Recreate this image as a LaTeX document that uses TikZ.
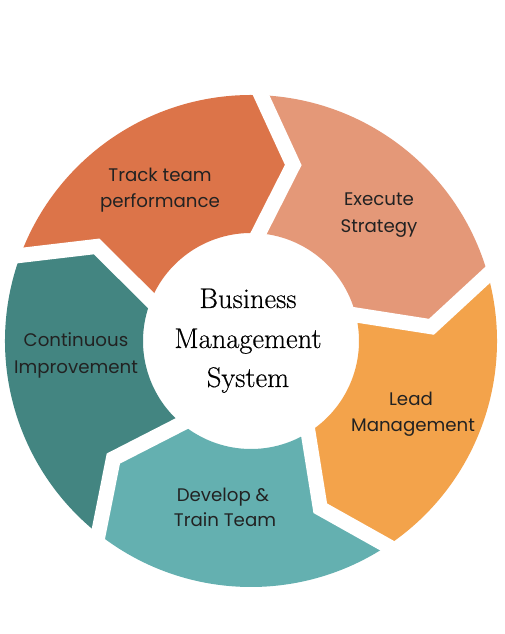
\documentclass[tikz,border=0pt]{standalone}
\usepackage{fontspec}
\newfontfamily\popp{Poppins}
\newfontfamily\ctrfont[FakeBold=0.4]{Latin Modern Roman}
\definecolor{ctrack}{HTML}{DC7449}
\definecolor{cexec}{HTML}{E49878}
\definecolor{clead}{HTML}{F3A34B}
\definecolor{cdev}{HTML}{64B0B0}
\definecolor{ccont}{HTML}{438581}
\definecolor{ctext}{HTML}{222222}
\begin{document}
\begin{tikzpicture}[x=1pt,y=1pt,
  lbl/.style={font=\popp\fontsize{18.2}{26}\selectfont, text=ctext, inner sep=0pt, anchor=base},
  ctr/.style={font=\ctrfont\fontsize{28.5}{40}\selectfont, text=black, inner sep=0pt, anchor=base},
  gapline/.style={white, line width=15pt, line join=miter}]
\useasboundingbox (0,0) rectangle (505,634);
\fill[white] (0,0) rectangle (505,634);
\def\Ro{246pt}\def\Ri{108pt}\def\Rm{181pt}\def\dt{12.5}
\newcommand\segm[3]{%
  \fill[#3] (#1:\Ro) arc[start angle=#1, end angle=#2, radius=\Ro]
    -- ({#2-\dt}:\Rm) -- (#2:\Ri)
    arc[start angle=#2, end angle=#1, radius=\Ri]
    -- ({#1-\dt}:\Rm) -- cycle;}
\newcommand\gap[1]{%
  \draw[gapline] (#1:258pt) -- ({#1-\dt}:\Rm) -- (#1:96pt);}
\begin{scope}[shift={(251,293)}]
  \segm{161}{89}{ctrack}
  \segm{89}{17}{cexec}
  \segm{17}{-55}{clead}
  \segm{-55}{-127}{cdev}
  \segm{233}{161}{ccont}
  \gap{161}\gap{89}\gap{17}\gap{-55}\gap{-127}
\end{scope}
\node[lbl] (track1) at (160,452) {Track team};
\node[lbl] (track2) at (160,426) {performance};
\node[lbl] (exec1) at (379,428) {Execute};
\node[lbl] (exec2) at (379,401) {Strategy};
\node[lbl] (cont1) at (76,287) {Continuous};
\node[lbl] (cont2) at (76,260) {Improvement};
\node[lbl] (lead1) at (411,228) {Lead};
\node[lbl] (lead2) at (413,202) {Management};
\node[lbl] (dev1) at (223,132) {Develop \&};
\node[lbl] (dev2) at (225,107) {Train Team};
\node[ctr] (bms1) at (248,326) {Business};
\node[ctr] (bms2) at (248,286) {Management};
\node[ctr] (bms3) at (248,247) {System};
\end{tikzpicture}
\end{document}
